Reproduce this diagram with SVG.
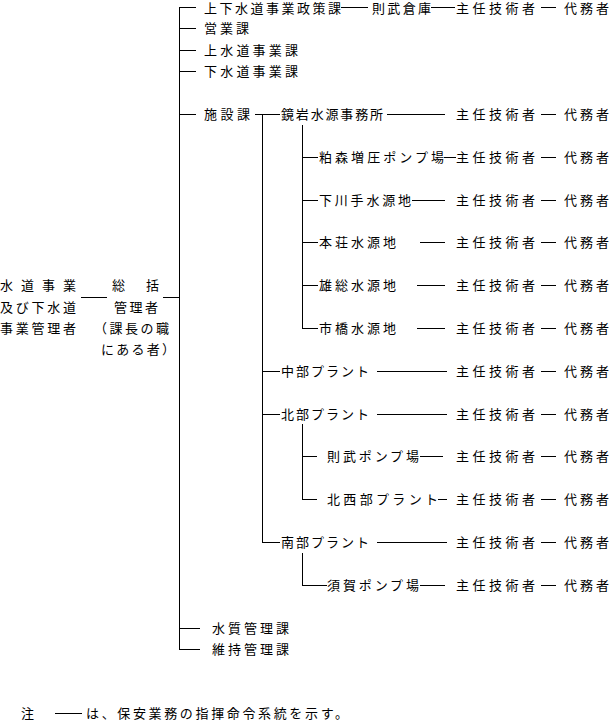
<svg xmlns="http://www.w3.org/2000/svg" width="609" height="722" viewBox="0 0 609 722">
<style>
.t{font-family:"Noto Sans CJK JP","Noto Sans CJK SC",sans-serif;font-size:13px;fill:#000;}
.c line{stroke:#000;stroke-width:1;shape-rendering:crispEdges;}
</style>
<rect width="609" height="722" fill="#fff"/>
<g class="c" id="connectors">
<line x1="179.5" y1="7.5" x2="179.5" y2="649.5"/>
<line x1="81" y1="297.5" x2="107" y2="297.5"/>
<line x1="163" y1="297.5" x2="180" y2="297.5"/>
<line x1="179" y1="7.5" x2="196" y2="7.5"/>
<line x1="179" y1="28.5" x2="196" y2="28.5"/>
<line x1="179" y1="50.5" x2="196" y2="50.5"/>
<line x1="179" y1="71.5" x2="196" y2="71.5"/>
<line x1="179" y1="114.5" x2="196" y2="114.5"/>
<line x1="179" y1="628.5" x2="200" y2="628.5"/>
<line x1="179" y1="649.5" x2="200" y2="649.5"/>
<line x1="341" y1="7.5" x2="368" y2="7.5"/>
<line x1="431" y1="7.5" x2="455" y2="7.5"/>
<line x1="255" y1="114.5" x2="280" y2="114.5"/>
<line x1="262.5" y1="114" x2="262.5" y2="542.5"/>
<line x1="387" y1="114.5" x2="445" y2="114.5"/>
<line x1="302.5" y1="125" x2="302.5" y2="328.5"/>
<line x1="302" y1="157.5" x2="318" y2="157.5"/>
<line x1="302" y1="200.5" x2="318" y2="200.5"/>
<line x1="302" y1="242.5" x2="318" y2="242.5"/>
<line x1="302" y1="285.5" x2="318" y2="285.5"/>
<line x1="302" y1="328.5" x2="318" y2="328.5"/>
<line x1="444" y1="157.5" x2="456" y2="157.5"/>
<line x1="412" y1="200.5" x2="445" y2="200.5"/>
<line x1="420" y1="242.5" x2="445" y2="242.5"/>
<line x1="417" y1="285.5" x2="445" y2="285.5"/>
<line x1="417" y1="328.5" x2="445" y2="328.5"/>
<line x1="262" y1="371.5" x2="280" y2="371.5"/>
<line x1="262" y1="414.5" x2="280" y2="414.5"/>
<line x1="262" y1="542.5" x2="280" y2="542.5"/>
<line x1="377" y1="371.5" x2="447" y2="371.5"/>
<line x1="377" y1="414.5" x2="447" y2="414.5"/>
<line x1="377" y1="542.5" x2="447" y2="542.5"/>
<line x1="302.5" y1="424" x2="302.5" y2="499.5"/>
<line x1="302" y1="456.5" x2="317" y2="456.5"/>
<line x1="302" y1="499.5" x2="317" y2="499.5"/>
<line x1="420" y1="456.5" x2="443" y2="456.5"/>
<line x1="438" y1="499.5" x2="447" y2="499.5"/>
<line x1="302.5" y1="553" x2="302.5" y2="585.5"/>
<line x1="302" y1="585.5" x2="327" y2="585.5"/>
<line x1="420" y1="585.5" x2="445" y2="585.5"/>
<line x1="541" y1="7.5" x2="556" y2="7.5"/>
<line x1="541" y1="114.5" x2="556" y2="114.5"/>
<line x1="541" y1="157.5" x2="556" y2="157.5"/>
<line x1="541" y1="200.5" x2="556" y2="200.5"/>
<line x1="541" y1="242.5" x2="556" y2="242.5"/>
<line x1="541" y1="285.5" x2="556" y2="285.5"/>
<line x1="541" y1="328.5" x2="556" y2="328.5"/>
<line x1="541" y1="371.5" x2="556" y2="371.5"/>
<line x1="541" y1="414.5" x2="556" y2="414.5"/>
<line x1="541" y1="456.5" x2="556" y2="456.5"/>
<line x1="541" y1="499.5" x2="556" y2="499.5"/>
<line x1="541" y1="542.5" x2="556" y2="542.5"/>
<line x1="541" y1="585.5" x2="556" y2="585.5"/>
<line x1="55" y1="713.5" x2="82" y2="713.5"/>
</g>
<g id="top-manager" class="t">
<text x="0" y="290" textLength="76" lengthAdjust="spacing">水道事業</text>
<text x="0" y="312" textLength="76" lengthAdjust="spacing">及び下水道</text>
<text x="0" y="333" textLength="76" lengthAdjust="spacing">事業管理者</text>
</g>
<g id="general-manager" class="t">
<text x="112" y="290" textLength="47" lengthAdjust="spacing">総　括</text>
<text x="114" y="312" textLength="44" lengthAdjust="spacing">管理者</text>
<text x="94" y="333" textLength="75" lengthAdjust="spacing">（課長の職</text>
<text x="101" y="354" textLength="74" lengthAdjust="spacing">にある者）</text>
</g>
<g id="policy" class="t">
<text x="204" y="13" textLength="137" lengthAdjust="spacing">上下水道事業政策課</text>
<text x="372" y="13" textLength="59" lengthAdjust="spacing">則武倉庫</text>
</g>
<g id="eigyo" class="t"><text x="204" y="33" textLength="45" lengthAdjust="spacing">営業課</text></g>
<g id="josuido" class="t"><text x="204" y="55" textLength="94" lengthAdjust="spacing">上水道事業課</text></g>
<g id="gesuido" class="t"><text x="204" y="76" textLength="94" lengthAdjust="spacing">下水道事業課</text></g>
<g id="shisetsu" class="t"><text x="204" y="119" textLength="46" lengthAdjust="spacing">施設課</text></g>
<g id="kagamiiwa" class="t"><text x="281" y="119" textLength="102" lengthAdjust="spacing">鏡岩水源事務所</text></g>
<g id="kasumori" class="t"><text x="319" y="162" textLength="125" lengthAdjust="spacing">粕森増圧ポンプ場</text></g>
<g id="shimokawate" class="t"><text x="319" y="205" textLength="92" lengthAdjust="spacing">下川手水源地</text></g>
<g id="honjo" class="t"><text x="319" y="247" textLength="77" lengthAdjust="spacing">本荘水源地</text></g>
<g id="oboke" class="t"><text x="319" y="290" textLength="77" lengthAdjust="spacing">雄総水源地</text></g>
<g id="ichihashi" class="t"><text x="319" y="333" textLength="77" lengthAdjust="spacing">市橋水源地</text></g>
<g id="chubu" class="t"><text x="281" y="376" textLength="88" lengthAdjust="spacing">中部プラント</text></g>
<g id="hokubu" class="t"><text x="281" y="419" textLength="88" lengthAdjust="spacing">北部プラント</text></g>
<g id="noritake-pump" class="t"><text x="327" y="461" textLength="92" lengthAdjust="spacing">則武ポンプ場</text></g>
<g id="hokuseibu" class="t"><text x="327" y="504" textLength="111" lengthAdjust="spacing">北西部プラント</text></g>
<g id="nanbu" class="t"><text x="281" y="547" textLength="88" lengthAdjust="spacing">南部プラント</text></g>
<g id="suga" class="t"><text x="327" y="590" textLength="92" lengthAdjust="spacing">須賀ポンプ場</text></g>
<g id="suishitsu" class="t"><text x="212" y="633" textLength="77" lengthAdjust="spacing">水質管理課</text></g>
<g id="iji" class="t"><text x="212" y="654" textLength="77" lengthAdjust="spacing">維持管理課</text></g>
<g id="engineers" class="t">
<text x="456" y="13" textLength="79" lengthAdjust="spacing">主任技術者</text>
<text x="456" y="119" textLength="79" lengthAdjust="spacing">主任技術者</text>
<text x="456" y="162" textLength="79" lengthAdjust="spacing">主任技術者</text>
<text x="456" y="205" textLength="79" lengthAdjust="spacing">主任技術者</text>
<text x="456" y="247" textLength="79" lengthAdjust="spacing">主任技術者</text>
<text x="456" y="290" textLength="79" lengthAdjust="spacing">主任技術者</text>
<text x="456" y="333" textLength="79" lengthAdjust="spacing">主任技術者</text>
<text x="456" y="376" textLength="79" lengthAdjust="spacing">主任技術者</text>
<text x="456" y="419" textLength="79" lengthAdjust="spacing">主任技術者</text>
<text x="456" y="461" textLength="79" lengthAdjust="spacing">主任技術者</text>
<text x="456" y="504" textLength="79" lengthAdjust="spacing">主任技術者</text>
<text x="456" y="547" textLength="79" lengthAdjust="spacing">主任技術者</text>
<text x="456" y="590" textLength="79" lengthAdjust="spacing">主任技術者</text>
</g>
<g id="deputies" class="t">
<text x="564" y="13" textLength="45" lengthAdjust="spacing">代務者</text>
<text x="564" y="119" textLength="45" lengthAdjust="spacing">代務者</text>
<text x="564" y="162" textLength="45" lengthAdjust="spacing">代務者</text>
<text x="564" y="205" textLength="45" lengthAdjust="spacing">代務者</text>
<text x="564" y="247" textLength="45" lengthAdjust="spacing">代務者</text>
<text x="564" y="290" textLength="45" lengthAdjust="spacing">代務者</text>
<text x="564" y="333" textLength="45" lengthAdjust="spacing">代務者</text>
<text x="564" y="376" textLength="45" lengthAdjust="spacing">代務者</text>
<text x="564" y="419" textLength="45" lengthAdjust="spacing">代務者</text>
<text x="564" y="461" textLength="45" lengthAdjust="spacing">代務者</text>
<text x="564" y="504" textLength="45" lengthAdjust="spacing">代務者</text>
<text x="564" y="547" textLength="45" lengthAdjust="spacing">代務者</text>
<text x="564" y="590" textLength="45" lengthAdjust="spacing">代務者</text>
</g>
<g id="note" class="t">
<text x="21" y="718">注</text>
<text x="86" y="718" textLength="262" lengthAdjust="spacing">は、保安業務の指揮命令系統を示す。</text>
</g>
</svg>
